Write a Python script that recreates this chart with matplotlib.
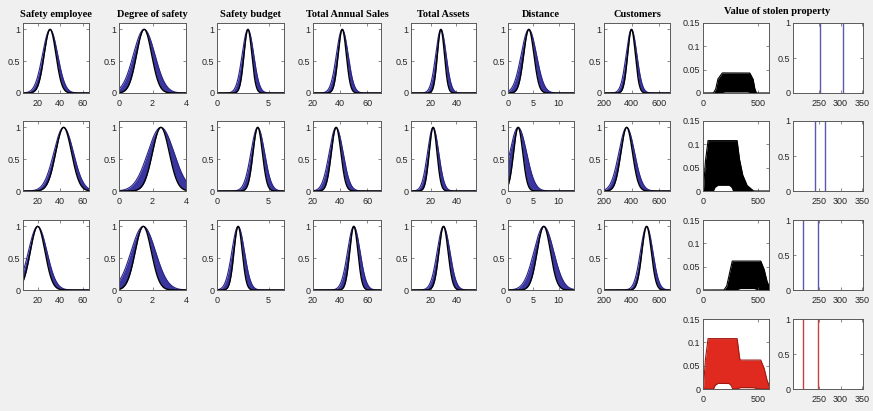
import numpy as np
import matplotlib
matplotlib.use("Agg")
import matplotlib.pyplot as plt

# column titles of the antecedent panels
titles = ["Safety employee", "Degree of safety", "Safety budget",
          "Total Annual Sales", "Total Assets", "Distance", "Customers"]
out_title = "Value of stolen property"

# x ranges and ticks of each input column
xlims = [(7, 65.5), (0, 4), (0, 6.5), (20, 70), (5, 55), (0, 13), (200, 680)]
xticks = [[20, 40, 60], [0, 2, 4], [0, 5], [20, 40, 60], [20, 40], [0, 5, 10], [200, 400, 600]]

# gaussian type-2 sets: centre, narrow sigma, wide sigma (rows x columns)
means = [[31, 1.5, 3.0, 41.5, 28, 4.1, 400],
         [43, 2.5, 3.95, 37, 22, 2.0, 365],
         [20, 1.45, 2.05, 50, 30, 7.05, 510]]
sig_lo = [[5.2, 0.45, 0.38, 3.0, 2.7, 1.0, 28],
          [7.0, 0.50, 0.45, 3.5, 3.0, 0.9, 42],
          [6.5, 0.48, 0.40, 3.0, 3.5, 1.3, 34]]
sig_hi = [[6.7, 0.64, 0.56, 4.3, 4.0, 1.5, 39],
          [8.7, 0.78, 0.66, 5.1, 4.3, 1.65, 57],
          [8.2, 0.73, 0.61, 4.6, 4.9, 1.95, 45]]

# fired output sets (upper / lower membership, breakpoints)
up_x = [[0, 95, 115, 135, 175, 425, 455, 470, 485, 600],
        [0, 5, 20, 45, 310, 330, 360, 400, 460, 600],
        [0, 190, 215, 240, 265, 525, 555, 580, 600]]
up_y = [[0, 0, 0.008, 0.03, 0.043, 0.043, 0.03, 0.01, 0, 0],
        [0, 0.005, 0.06, 0.108, 0.108, 0.07, 0.035, 0.012, 0, 0],
        [0, 0, 0.008, 0.035, 0.062, 0.062, 0.045, 0.02, 0.008]]
lo_x = [[0, 150, 200, 400, 450, 600],
        [0, 95, 110, 135, 235, 255, 270, 600],
        [0, 300, 340, 460, 500, 600]]
lo_y = [[0, 0, 0.002, 0.002, 0, 0],
        [0, 0, 0.008, 0.012, 0.012, 0.008, 0, 0],
        [0, 0, 0.003, 0.003, 0, 0]]

# interval of the type-reduced output (vertical lines), rows 1-3 and aggregate
interval = [[252, 306], [241, 264], [212, 248], [212, 248]]

# layout in pixels
W, H = 873, 411
col_left = [23, 119, 217, 313, 411, 508, 604, 703, 793]
col_w = [66, 67, 67, 68, 65, 66, 66, 66, 70]
row_top = [23, 121, 220, 319]
row_h = 70

bg = "#f0f0f0"
spine_c = "#5a5a5a"
tick_c = "#262626"
tick_font = "Liberation Sans"
title_font = "Liberation Serif"

fig = plt.figure(figsize=(W / 100, H / 100), dpi=100, facecolor=bg)


def make_ax(r, c):
    ax = fig.add_axes([col_left[c] / W, (H - row_top[r] - row_h) / H,
                       col_w[c] / W, row_h / H])
    ax.set_facecolor("white")
    for s in ax.spines.values():
        s.set_color(spine_c)
        s.set_linewidth(0.7)
    ax.tick_params(direction="in", length=2, width=0.5, color=spine_c,
                   labelsize=6.5, labelcolor=tick_c, top=True, right=True)
    ax.tick_params(axis="x", pad=4)
    ax.tick_params(axis="y", pad=2)
    return ax


def fmt(v):
    return ("%g" % v)


def set_ticks(ax, xt, yt):
    ax.set_xticks(xt)
    ax.set_xticklabels([fmt(v) for v in xt], family=tick_font)
    ax.set_yticks(yt)
    ax.set_yticklabels([fmt(v) for v in yt], family=tick_font)


# gaussian input panels
for r in range(3):
    for c in range(7):
        ax = make_ax(r, c)
        x = np.linspace(xlims[c][0], xlims[c][1], 400)
        m = means[r][c]
        g_lo = np.exp(-(x - m) ** 2 / (2 * sig_lo[r][c] ** 2))
        g_hi = np.exp(-(x - m) ** 2 / (2 * sig_hi[r][c] ** 2))
        ax.fill_between(x, g_lo, g_hi, color="#3a36a0", lw=0)
        ax.plot(x, g_hi, color="#2a2684", lw=0.8)
        ax.plot(x, g_lo, color="black", lw=1.0)
        ax.set_xlim(xlims[c])
        ax.set_ylim(0, 1.1)
        set_ticks(ax, xticks[c], [0, 0.5, 1])
        if r == 0:
            ax.set_title(titles[c], family=title_font, fontweight="bold",
                         fontsize=7.5, pad=4)

# output panels
xo = np.linspace(0, 600, 1201)
uppers = [np.interp(xo, up_x[i], up_y[i]) for i in range(3)]
lowers = [np.interp(xo, lo_x[i], lo_y[i]) for i in range(3)]
agg_up = np.maximum(uppers[1], uppers[2])
agg_lo = np.maximum(lowers[1], lowers[2])

for r in range(4):
    ax = make_ax(r, 7)
    if r < 3:
        ax.fill_between(xo, lowers[r], uppers[r], color="black", lw=0)
        ax.plot(xo, uppers[r], color="black", lw=0.8)
    else:
        ax.fill_between(xo, agg_lo, agg_up, color="#e02a1f", lw=0)
        ax.plot(xo, agg_up, color="#9e1b14", lw=0.8)
        ax.plot(xo, agg_lo, color="#9e1b14", lw=0.8)
    ax.set_xlim(0, 600)
    ax.set_ylim(0, 0.15)
    set_ticks(ax, [0, 500], [0, 0.05, 0.1, 0.15])

    ax2 = make_ax(r, 8)
    lc = "#5b58ad" if r < 3 else "#c84040"
    for v in interval[r]:
        ax2.axvline(v, color=lc, lw=1.0)
    ax2.set_xlim(190, 352)
    ax2.set_ylim(0, 1)
    set_ticks(ax2, [250, 300, 350], [0, 0.5, 1])

fig.text(777 / W, 1 - 12 / H, out_title, family=title_font, fontweight="bold",
         fontsize=7.5, ha="center", va="center")

fig.savefig("out.png", dpi=100, facecolor=bg)
